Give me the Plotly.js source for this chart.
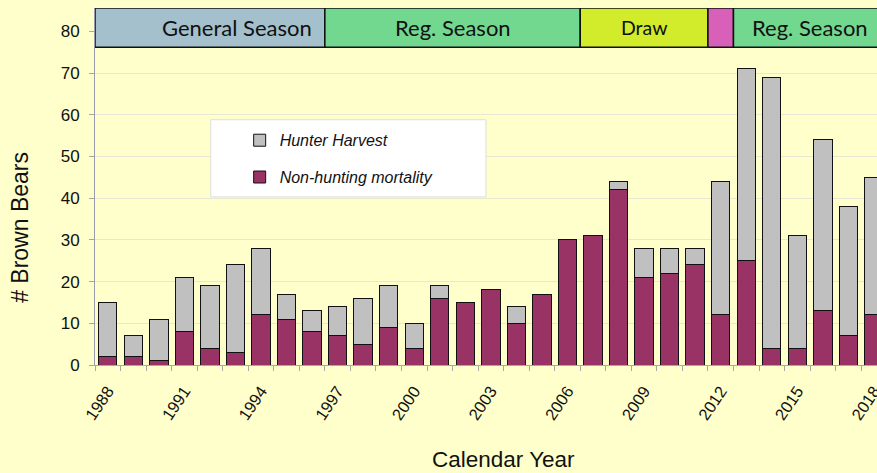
<!DOCTYPE html>
<html><head><meta charset="utf-8">
<script src="https://cdn.plot.ly/plotly-3.0.1.min.js"></script>
<style>html,body{margin:0;padding:0;overflow:hidden;background:#FFFFCC}</style>
</head><body><div id="chart" style="width:877px;height:473px"></div>
<script>
const years = [1988,1989,1990,1991,1992,1993,1994,1995,1996,1997,1998,1999,2000,2001,2002,2003,2004,2005,2006,2007,2008,2009,2010,2011,2012,2013,2014,2015,2016,2017,2018];
const nonHunting = [2,2,1,8,4,3,12,11,8,7,5,9,4,16,15,18,10,17,30,31,42,21,22,24,12,25,4,4,13,7,12];
const hunterHarvest = [13,5,10,13,15,21,16,6,5,7,11,10,6,3,0,0,4,0,0,0,2,7,6,4,32,46,65,27,41,31,33];
const seasonLabels = ['General Season','Reg. Season','Draw','','Reg. Season'];
const seasonStart = [1988,1997,2007,2012,2013];
const seasonEnd = [1996,2006,2011,2012,2019];
const seasonColors = ['#A3C0CC','#72D890','#D2EC2C','#D860B8','#72D890'];
const yTickVals = [0,10,20,30,40,50,60,70,80];
const xTitle = 'Calendar Year';
const yTitle = '# Brown Bears';

const font = 'Liberation Sans, Arial, sans-serif';
const traces = [
  {type:'bar', name:'Non-hunting mortality', x:years, y:nonHunting, legendgroup:'a', legendrank:2,
   marker:{color:'#993366', line:{color:'#111', width:1}}},
  {type:'bar', name:'Hunter Harvest', x:years, y:hunterHarvest, legendgroup:'b', legendrank:1,
   marker:{color:'#C0C0C0', line:{color:'#111', width:1}}}
];

const shapes = [{type:'rect', xref:'paper', yref:'paper', x0:0.148, x1:0.5, y0:0.471, y1:0.687,
  fillcolor:'#FFFFFF', line:{color:'#DDDDDD', width:1}, layer:'above'}];
const annotations = [
  {xref:'paper', yref:'paper', x:0.523, y:-0.265, xanchor:'center', yanchor:'middle', text:xTitle,
   showarrow:false, font:{family:font, size:22.5, color:'#111'}},
  {xref:'paper', yref:'paper', x:-0.0953, y:0.3855, xanchor:'center', yanchor:'middle', text:yTitle,
   textangle:-90, showarrow:false, font:{family:font, size:23, color:'#111'}}
];
const bandLow = 76.2, bandHigh = 85.6;
seasonStart.forEach((s,i)=>{
  shapes.push({type:'rect', xref:'x', yref:'y', x0:s-0.5, x1:seasonEnd[i]+0.5, y0:bandLow, y1:bandHigh,
    fillcolor:seasonColors[i], line:{color:'#111', width:1.5}, layer:'above'});
  if (seasonLabels[i]) {
    const isFirst = i===0;
    annotations.push({xref:'x', yref:'y', x: isFirst ? seasonEnd[i]+0.5 : (i===4 ? 2015.5 : (s+seasonEnd[i])/2),
      xanchor: isFirst ? 'right':'center', xshift: isFirst ? -11 : 0,
      y:(bandLow+bandHigh)/2, yanchor:'middle', text:seasonLabels[i], showarrow:false,
      font:{family:'Lato, Open Sans, sans-serif', size: seasonLabels[i]==='Draw'?19.5:22, color:'#111'}});
  }
});

const layout = {
  width:877, height:473,
  margin:{l:95, r:0, t:8, b:108},
  paper_bgcolor:'#FFFFCC', plot_bgcolor:'#FFFFCC',
  barmode:'stack', bargap:0.28,
  font:{family:font, color:'#111'},
  showlegend:true,
  legend:{x:0.185, y:0.677, xanchor:'left', yanchor:'top', bgcolor:'rgba(0,0,0,0)', borderwidth:0,
    traceorder:'grouped', tracegroupgap:13, font:{family:font, size:16, style:'italic', color:'#111'}},
  xaxis:{type:'linear', range:[1987.5, 2018.12], tickmode:'linear', tick0:1988, dtick:3,
    ticks:'', tickangle:-56, ticklabeloverflow:'allow', ticklabelstandoff:9,
    tickfont:{size:16.5, color:'#111'}, showgrid:false, zeroline:false,
    showline:true, linecolor:'#A8A8A8', linewidth:1,
    minor:{ticks:'outside', ticklen:5, tickcolor:'#A8A8A8', tick0:1987.5, dtick:1, showgrid:false}},
  yaxis:{range:[0,85.6], tickvals:yTickVals, ticks:'outside', ticklen:5, tickcolor:'#A8A8A8',
    tickfont:{size:17, color:'#111'}, ticklabelstandoff:6, showgrid:true, gridcolor:'#E8E8D2', zeroline:false,
    showline:true, linecolor:'#9A9AAE', linewidth:1},
  shapes:shapes, annotations:annotations
};
Plotly.newPlot('chart', traces, layout, {displayModeBar:false, staticPlot:true});
</script></body></html>
